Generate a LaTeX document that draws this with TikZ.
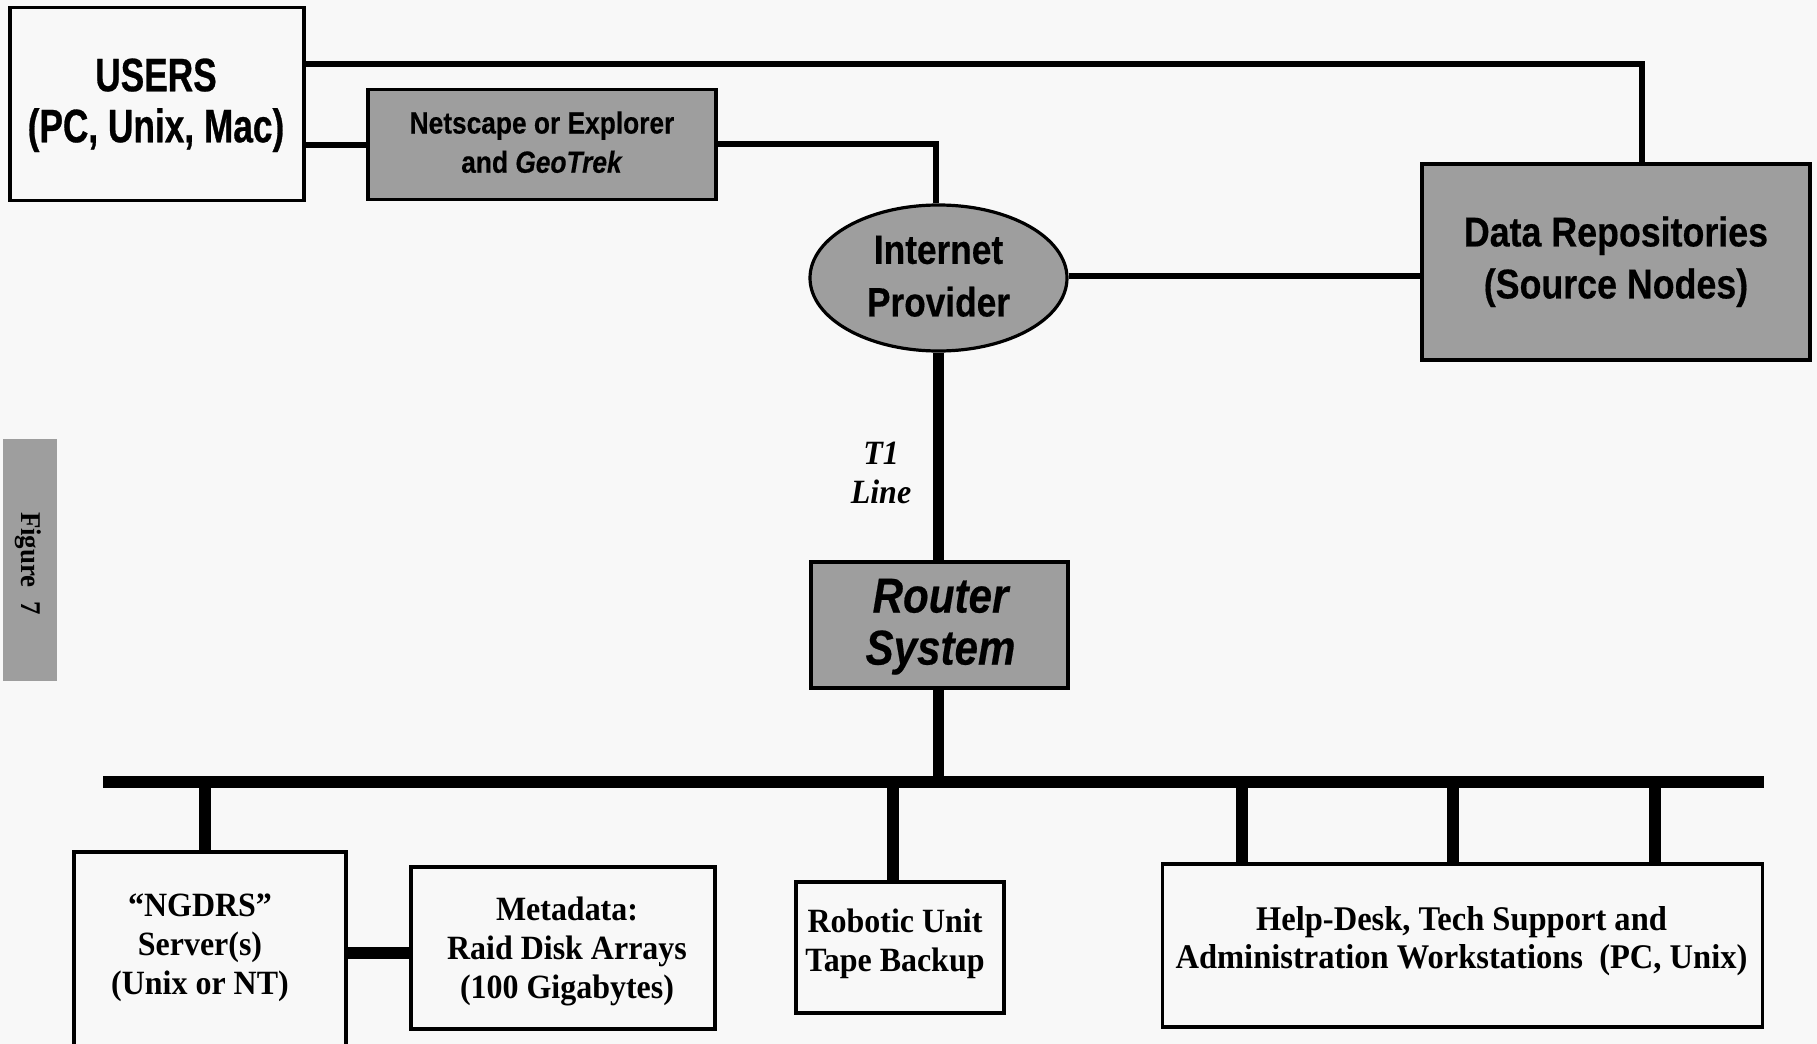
\documentclass[tikz,border=0pt]{standalone}
\usepackage{fontspec}
\usetikzlibrary{shapes.geometric}
\setmainfont{Liberation Serif}
\newfontfamily\hv[FakeStretch=0.86,BoldFeatures={FakeBold=0.4},BoldItalicFeatures={FakeBold=0.4}]{Liberation Sans}
\newfontfamily\hvn[FakeStretch=0.75,BoldFeatures={FakeBold=0.6}]{Liberation Sans}
\newfontfamily\tm[FakeStretch=0.94]{Liberation Serif}
\definecolor{paper}{HTML}{F8F8F8}
\definecolor{halftone}{HTML}{9E9E9E}
\newcommand\mv[4]{\makebox[0pt]{\hspace*{#1}\raisebox{#2}[0pt][0pt]{#3\begin{tabular}{@{}c@{}}#4\end{tabular}}}}
\newcommand\sz[2]{\fontsize{#1}{#2}\selectfont}
\tikzset{
  whitebox/.style={draw=black,line width=1.6pt,fill=paper,inner sep=0pt,rectangle},
  graybox/.style={draw=black,line width=1.6pt,fill=halftone,inner sep=0pt,rectangle},
  size/.style 2 args={minimum width=#1*0.5pt,minimum height=#2*0.5pt},
  thinline/.style={line width=3pt,black},
  thickline/.style={line width=5.6pt,black},
}
\begin{document}
\begin{tikzpicture}[x=0.5pt,y=-0.5pt]
\useasboundingbox (0,0) rectangle (1817,1044);
\clip (0,0) rectangle (1817,1044);
\fill[paper] (0,0) rectangle (1817,1044);

\coordinate (topline) at (304,64);
\coordinate (dropdata) at (1642,64);
\coordinate (netjoin) at (936,143.5);
\coordinate (linkrow) at (0,953);
\coordinate (isprow) at (0,276);

\node[whitebox,size={294}{193}] (users) at (157,104)
  {\mv{-1pt}{-7.5pt}{\hvn\bfseries\sz{23.5}{25.5}}{USERS\\(PC, Unix, Mac)}};
\node[graybox,size={348}{110}] (net) at (542,144.5)
  {\mv{0pt}{-4pt}{\hv\bfseries\sz{15.3}{19.6}}{Netscape or Explorer\\and \textit{GeoTrek}}};
\node[ellipse,draw=black,line width=1.6pt,fill=halftone,inner sep=0pt,size={257}{146}] (isp) at (938.5,278)
  {\mv{0pt}{-6pt}{\hv\bfseries\sz{20.5}{26.3}}{Internet\\Provider}};
\node[graybox,size={388}{196}] (data) at (1616,262)
  {\mv{0pt}{-5.2pt}{\hv\bfseries\sz{20.8}{26}}{Data Repositories\\(Source Nodes)}};
\node[graybox,size={257}{126}] (router) at (939.5,625)
  {\mv{1pt}{-7.8pt}{\hv\bfseries\itshape\sz{24.5}{26}}{Router\\System}};
\node[inner sep=0pt] (t1) at (881,475)
  {\mv{0pt}{-5pt}{\tm\bfseries\itshape\sz{17}{19.5}}{T1\\Line}};
\node[fill=black,inner sep=0pt,rectangle,size={1661}{12.5}] (bus) at (933.5,782) {};
\coordinate (s1) at (205,782);
\coordinate (s2) at (893,782);
\coordinate (s3) at (1242,782);
\coordinate (s4) at (1453,782);
\coordinate (s5) at (1655,782);

\node[whitebox,size={272}{206}] (ngdrs) at (210,955)
  {\mv{-10pt}{-0.6pt}{\tm\bfseries\sz{17}{19.5}}{“NGDRS”\\Server(s)\\(Unix or NT)}};
\node[whitebox,size={304}{162}] (meta) at (563,948)
  {\mv{4pt}{-6.2pt}{\tm\bfseries\sz{17}{19.5}}{Metadata:\\Raid Disk Arrays\\(100 Gigabytes)}};
\node[whitebox,size={208}{131}] (robot) at (900,947.5)
  {\mv{-5pt}{-2.5pt}{\tm\bfseries\sz{17}{19.5}}{Robotic Unit\\Tape Backup}};
\node[whitebox,size={600}{163}] (help) at (1462.5,945.5)
  {\mv{-1pt}{-2.5pt}{\tm\bfseries\sz{17.3}{19.2}}{Help-Desk, Tech Support and\\Administration Workstations\ \ (PC, Unix)}};
\node[draw=none,fill=halftone,inner sep=0pt,rectangle,size={54}{242}] (fig) at (30,560)
  {\makebox[0pt]{\hspace*{-1.5pt}\raisebox{1.5pt}{\rotatebox{-90}{\tm\bfseries\sz{14.3}{17} Figure\ \ 7}}}};

\draw[thinline] (users.east |- topline) -- (dropdata) -- (dropdata |- data.north);
\draw[thinline] (users.east |- net.east) -- (net.west);
\draw[thinline] (net.east |- netjoin) -- (netjoin) -- (isp.north -| netjoin);
\draw[thinline] (isp.east |- isprow) -- (data.west |- isprow);
\draw[thickline] (isp.south) -- (router.north -| isp.south);
\draw[thickline] (router.south -| isp.south) -- (bus.center -| isp.south);
\draw[thickline] (s1) -- (s1 |- ngdrs.north);
\draw[thickline] (s2) -- (s2 |- robot.north);
\draw[thickline] (s3) -- (s3 |- help.north);
\draw[thickline] (s4) -- (s4 |- help.north);
\draw[thickline] (s5) -- (s5 |- help.north);
\draw[thickline] (ngdrs.east |- linkrow) -- (meta.west |- linkrow);
\end{tikzpicture}
\end{document}
